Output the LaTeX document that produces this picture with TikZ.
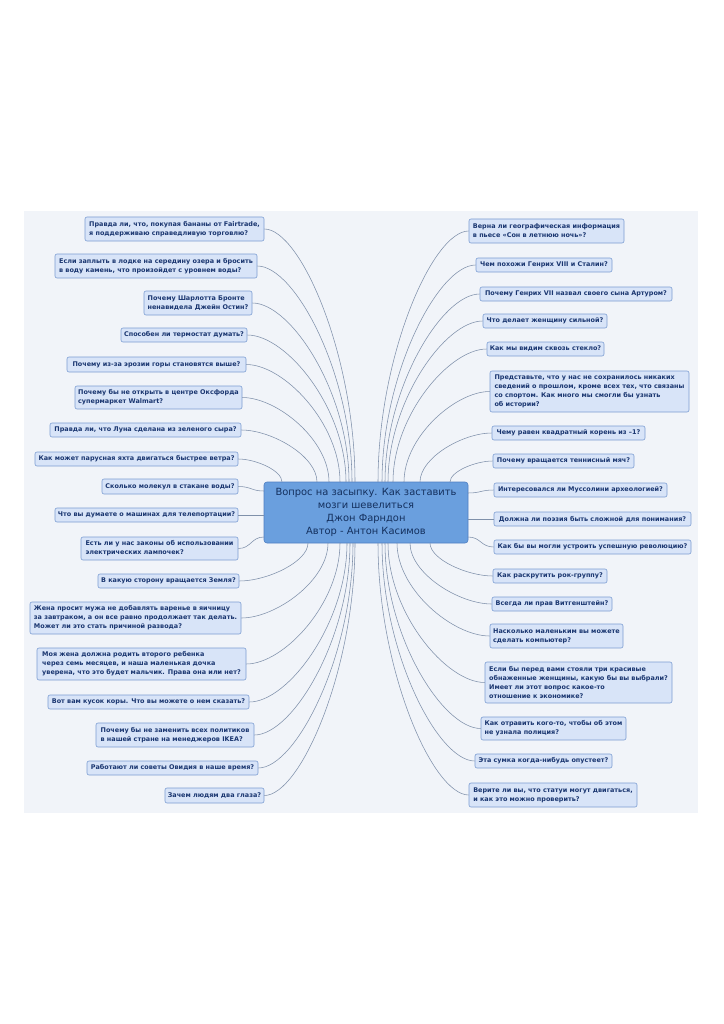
\documentclass[tikz,border=0pt]{standalone}
\usepackage{fontspec}
\setmainfont{DejaVu Sans}
\usetikzlibrary{calc}
\definecolor{panel}{HTML}{F1F4F9}
\definecolor{leaffill}{HTML}{D8E4F8}
\definecolor{leafdraw}{HTML}{7C9DD2}
\definecolor{leaftext}{HTML}{1A3670}
\definecolor{centfill}{HTML}{6A9FDE}
\definecolor{centdraw}{HTML}{4E7EC2}
\definecolor{centtext}{HTML}{14305E}
\definecolor{linec}{HTML}{7F90AA}
\newcommand\leafnode[6]{\node[leaf, minimum width={#3-#2}, minimum height={#5-#4}] (#1) at ({(#2+#3)/2},{(#4+#5)/2}) {#6};}
\newcommand\vconn[2]{\draw[conn] (#1) .. controls ($(#1)!0.4!(#1-|#2)$) and ($(#2)!0.5!(#1-|#2)$) .. (#2);}
\newcommand\sconn[2]{\draw[conn] (#1) .. controls ($(#1)!0.5!(#1-|#2)$) and ($(#2)!0.5!(#2-|#1)$) .. (#2);}
\begin{document}
\begin{tikzpicture}[x=1pt,y=-1pt,
  leaf/.style={draw=leafdraw, fill=leaffill, rounded corners=2pt, line width=0.6pt,
    text=leaftext, font=\bfseries\fontsize{6.45}{8.9}\selectfont, align=left, inner sep=0pt},
  cent/.style={draw=centdraw, fill=centfill, rounded corners=3pt, line width=0.6pt,
    text=centtext, font=\fontsize{9.9}{12.8}\selectfont, align=center, inner sep=0pt},
  conn/.style={draw=linec, line width=0.55pt}]
\useasboundingbox (0,0) rectangle (723,1024);
\fill[white] (0,0) rectangle (723,1024);
\fill[panel] (24,211) rectangle (698,813);

% central node
\node[cent, minimum width=204, minimum height=61] (c) at (366,512.5)
  {Вопрос на засыпку. Как заставить\\мозги шевелиться\\Джон Фарндон\\Автор - Антон Касимов};

% left leaves
\leafnode{L1}{85}{264}{217}{241}{Правда ли, что, покупая бананы от Fairtrade,\\я поддерживаю справедливую торговлю?}
\leafnode{L2}{55}{257}{254}{278}{Если заплыть в лодке на середину озера и бросить\\в воду камень, что произойдет с уровнем воды?}
\leafnode{L3}{144}{252}{291}{315}{Почему Шарлотта Бронте\\ненавидела Джейн Остин?}
\leafnode{L4}{121}{247}{328}{342}{Способен ли термостат думать?}
\leafnode{L5}{67}{246}{357}{372}{Почему из-за эрозии горы становятся выше?}
\leafnode{L6}{75}{242}{386}{409}{Почему бы не открыть в центре Оксфорда\\супермаркет Walmart?}
\leafnode{L7}{50}{241}{423}{437}{Правда ли, что Луна сделана из зеленого сыра?}
\leafnode{L8}{35}{238}{452}{466}{Как может парусная яхта двигаться быстрее ветра?}
\leafnode{L9}{102}{238}{479}{494}{Сколько молекул в стакане воды?}
\leafnode{L10}{55}{238}{508}{522}{Что вы думаете о машинах для телепортации?}
\leafnode{L11}{81}{238}{537}{560}{Есть ли у нас законы об использовании\\электрических лампочек?}
\leafnode{L12}{98}{239}{574}{588}{В какую сторону вращается Земля?}
\leafnode{L13}{30}{241}{602}{634}{Жена просит мужа не добавлять варенье в яичницу\\за завтраком, а он все равно продолжает так делать.\\Может ли это стать причиной развода?}
\leafnode{L14}{37}{246}{648}{680}{Моя жена должна родить второго ребенка\\через семь месяцев, и наша маленькая дочка\\уверена, что это будет мальчик. Права она или нет?}
\leafnode{L15}{48}{249}{695}{709}{Вот вам кусок коры. Что вы можете о нем сказать?}
\leafnode{L16}{96}{254}{723}{747}{Почему бы не заменить всех политиков\\в нашей стране на менеджеров IKEA?}
\leafnode{L17}{87}{258}{761}{775}{Работают ли советы Овидия в наше время?}
\leafnode{L18}{165}{264}{788}{803}{Зачем людям два глаза?}

% right leaves
\leafnode{R1}{469}{624}{219}{243}{Верна ли географическая информация\\в пьесе «Сон в летнюю ночь»?}
\leafnode{R2}{476}{612}{258}{272}{Чем похожи Генрих VIII и Сталин?}
\leafnode{R3}{480}{672}{287}{301}{Почему Генрих VII назвал своего сына Артуром?}
\leafnode{R4}{483}{607}{314}{328}{Что делает женщину сильной?}
\leafnode{R5}{487}{604}{342}{356}{Как мы видим сквозь стекло?}
\leafnode{R6}{490}{689}{371}{412}{Представьте, что у нас не сохранилось никаких\\сведений о прошлом, кроме всех тех, что связаны\\со спортом. Как много мы смогли бы узнать\\об истории?}
\leafnode{R7}{492}{645}{426}{440}{Чему равен квадратный корень из –1?}
\leafnode{R8}{493}{634}{454}{468}{Почему вращается теннисный мяч?}
\leafnode{R9}{494}{667}{483}{497}{Интересовался ли Муссолини археологией?}
\leafnode{R10}{494}{691}{512}{526}{Должна ли поэзия быть сложной для понимания?}
\leafnode{R11}{494}{691}{540}{554}{Как бы вы могли устроить успешную революцию?}
\leafnode{R12}{493}{607}{569}{583}{Как раскрутить рок-группу?}
\leafnode{R13}{492}{612}{597}{611}{Всегда ли прав Витгенштейн?}
\leafnode{R14}{490}{623}{624}{648}{Насколько маленьким вы можете\\сделать компьютер?}
\leafnode{R15}{485}{672}{662}{703}{Если бы перед вами стояли три красивые\\обнаженные женщины, какую бы вы выбрали?\\Имеет ли этот вопрос какое-то\\отношение к экономике?}
\leafnode{R16}{481}{626}{717}{740}{Как отравить кого-то, чтобы об этом\\не узнала полиция?}
\leafnode{R17}{475}{612}{754}{768}{Эта сумка когда-нибудь опустеет?}
\leafnode{R18}{469}{637}{783}{807}{Верите ли вы, что статуи могут двигаться,\\и как это можно проверить?}

% attachment points on the central node
\coordinate (cL1) at (355,482);
\coordinate (cL2) at (352,482);
\coordinate (cL3) at (349,482);
\coordinate (cL4) at (346,482);
\coordinate (cL5) at (340,482);
\coordinate (cL6) at (329,482);
\coordinate (cL7) at (317,482);
\coordinate (cL8) at (282,482);
\coordinate (cL9) at (264,491);
\coordinate (cL10) at (264,515);
\coordinate (cL11) at (264,537);
\coordinate (cL12) at (308,543);
\coordinate (cL13) at (328,543);
\coordinate (cL14) at (340,543);
\coordinate (cL15) at (347,543);
\coordinate (cL16) at (350,543);
\coordinate (cL17) at (353,543);
\coordinate (cL18) at (355,543);
\coordinate (cR1) at (378,482);
\coordinate (cR2) at (382,482);
\coordinate (cR3) at (385,482);
\coordinate (cR4) at (388,482);
\coordinate (cR5) at (393,482);
\coordinate (cR6) at (404,482);
\coordinate (cR7) at (420,482);
\coordinate (cR8) at (450,482);
\coordinate (cR9) at (468,493);
\coordinate (cR10) at (468,519);
\coordinate (cR11) at (468,537);
\coordinate (cR12) at (430,543);
\coordinate (cR13) at (410,543);
\coordinate (cR14) at (397,543);
\coordinate (cR15) at (388,543);
\coordinate (cR16) at (385,543);
\coordinate (cR17) at (382,543);
\coordinate (cR18) at (378,543);

% connectors
\foreach \i in {1,2,3,4,5,6,7,8,12,13,14,15,16,17,18} {
  \vconn{L\i.east}{cL\i}
  \vconn{R\i.west}{cR\i}
}
\foreach \i in {9,10,11} {
  \sconn{L\i.east}{cL\i}
  \sconn{R\i.west}{cR\i}
}
\end{tikzpicture}
\end{document}
